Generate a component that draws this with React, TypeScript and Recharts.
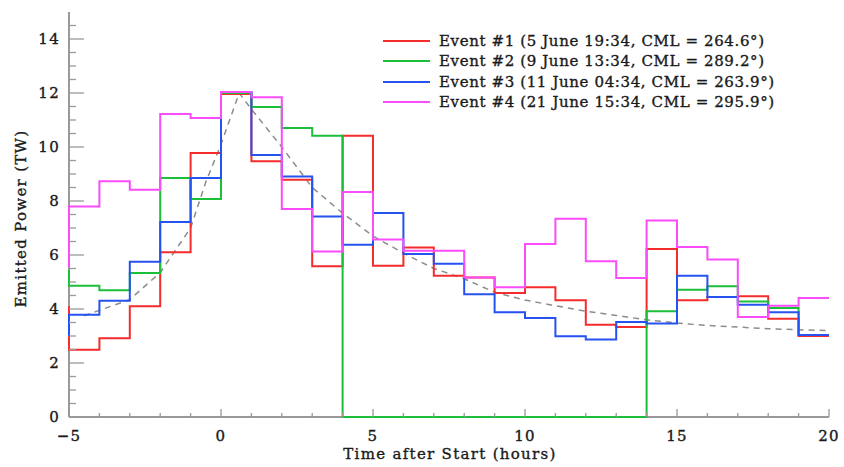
import React from 'react';
import { LineChart, Line, XAxis, YAxis, Legend } from 'recharts';

// hour marks: first entry is the level coming into the window, then the end of each 1-hour bin
const hours = [-5, -4, -3, -2, -1, 0, 1, 2, 3, 4, 5, 6, 7, 8, 9, 10, 11, 12, 13, 14, 15, 16, 17, 18, 19, 20];

const event1 = [4.1, 2.49, 2.92, 4.1, 6.1, 9.78, 11.96, 9.47, 8.79, 5.58, 10.42, 5.6, 6.28, 5.23, 5.17, 4.59, 4.81, 4.32, 3.42, 3.33, 6.22, 4.32, 4.44, 4.47, 3.64, 3.0];
const event2 = [5.45, 4.86, 4.69, 5.33, 8.85, 8.07, 12.0, 11.48, 10.7, 10.42, 0, 0, 0, 0, 0, 0, 0, 0, 0, 0, 3.92, 4.71, 4.84, 4.28, 4.04, 3.04];
const event3 = [3.0, 3.79, 4.31, 5.75, 7.22, 8.85, 12.04, 9.7, 8.91, 7.43, 6.38, 7.56, 6.04, 5.68, 4.55, 3.88, 3.67, 2.99, 2.87, 3.52, 3.46, 5.23, 4.44, 4.16, 3.88, 3.04];
const event4 = [5.55, 7.8, 8.73, 8.42, 11.22, 11.07, 12.04, 11.84, 7.7, 6.13, 8.33, 6.57, 6.16, 6.16, 5.17, 4.81, 6.41, 7.34, 5.77, 5.15, 7.28, 6.3, 5.83, 3.7, 4.12, 4.41];

// dashed model curve
const modelT = [-4.5, -4, -3, -2, -1, -0.5, 0, 0.6, 1, 2, 3, 4, 5, 6, 7, 8, 9, 10, 11, 12, 13, 14, 15, 16, 17, 18, 19, 20];
const modelP = [3.75, 3.95, 4.35, 5.35, 7.0, 8.7, 10.1, 12.0, 11.4, 10.0, 8.5, 7.55, 6.7, 6.07, 5.5, 5.12, 4.62, 4.33, 4.12, 3.92, 3.76, 3.6, 3.48, 3.39, 3.33, 3.27, 3.23, 3.2];

const eventNames = [
  'Event #1 (5 June 19:34, CML = 264.6°)',
  'Event #2 (9 June 13:34, CML = 289.2°)',
  'Event #3 (11 June 04:34, CML = 263.9°)',
  'Event #4 (21 June 15:34, CML = 295.9°)',
];
const eventColors = ['#f52c2c', '#1cbf3a', '#2652f0', '#fb4cfb'];

const xTickLabels = [-5, 0, 5, 10, 15, 20];
const yTickLabels = [0, 2, 4, 6, 8, 10, 12, 14];

const xTicks = Array.from({ length: 26 }, (_, i) => i - 5);
const yTicks = Array.from({ length: 30 }, (_, i) => i * 0.5);

const data = hours.map((t, i) => ({ t, e1: event1[i], e2: event2[i], e3: event3[i], e4: event4[i] }));
const model = modelT.map((t, i) => ({ t, p: modelP[i] }));

const FONT = '"DejaVu Serif", serif';
const AXIS = '#999999';
const INK = '#1a1a1a';

const textStyle = { fontFamily: FONT, fontSize: 15, fill: INK, stroke: INK, strokeWidth: 0.35, letterSpacing: 1.3 };

const BottomTick = ({ x, y, payload }: any) => {
  const major = xTickLabels.includes(payload.value);
  return (
    <g>
      <line x1={x} y1={y} x2={x} y2={y - (major ? 8 : 4)} stroke={AXIS} strokeWidth={1.3} />
      {major && (
        <text x={x} y={y + 24} textAnchor="middle" style={textStyle}>
          {payload.value < 0 ? '\u2212' + Math.abs(payload.value) : payload.value}
        </text>
      )}
    </g>
  );
};

const TopTick = ({ x, y, payload }: any) => {
  const major = xTickLabels.includes(payload.value);
  return <line x1={x} y1={y} x2={x} y2={y + (major ? 8 : 4)} stroke={AXIS} strokeWidth={1.3} />;
};

const LeftTick = ({ x, y, payload }: any) => {
  const major = yTickLabels.includes(payload.value);
  return (
    <g>
      <line x1={x} y1={y} x2={x + (major ? 15 : 7)} y2={y} stroke={AXIS} strokeWidth={1.3} />
      {major && (
        <text x={x - 9} y={y + 5} textAnchor="end" style={textStyle}>
          {payload.value}
        </text>
      )}
    </g>
  );
};

const RightTick = ({ x, y, payload }: any) => {
  const major = yTickLabels.includes(payload.value);
  return <line x1={x} y1={y} x2={x - (major ? 15 : 7)} y2={y} stroke={AXIS} strokeWidth={1.3} />;
};

const XTitle = ({ viewBox }: any) => (
  <text x={viewBox.x + viewBox.width / 2 + 1} y={viewBox.y + 42} textAnchor="middle" style={textStyle}>
    Time after Start (hours)
  </text>
);

const YTitle = ({ viewBox }: any) => {
  const cx = viewBox.x + 21;
  const cy = viewBox.y + viewBox.height / 2 + 4;
  return (
    <text x={cx} y={cy} transform={`rotate(-90, ${cx}, ${cy})`} textAnchor="middle" dominantBaseline="central" style={textStyle}>
      Emitted Power (TW)
    </text>
  );
};

const renderLegend = ({ payload }: any) => (
  <div style={{ fontFamily: FONT, fontSize: 15, color: INK, letterSpacing: 0.62, WebkitTextStroke: '0.35px #1a1a1a' }}>
    {(payload || [])
      .filter((entry: any) => eventNames.includes(entry.value))
      .map((entry: any) => (
        <div key={entry.value} style={{ display: 'flex', alignItems: 'center', height: 20.3, whiteSpace: 'nowrap' }}>
          <span style={{ display: 'inline-block', width: 47, borderTop: `2px solid ${entry.color}`, marginRight: 9 }} />
          <span>{entry.value}</span>
        </div>
      ))}
  </div>
);

export default function App() {
  return (
    <div style={{ position: 'absolute', left: 0, top: 0, background: '#fff' }}>
      <LineChart width={844} height={467} data={data} margin={{ top: 12, right: 15, bottom: 0, left: 0 }}>
        <XAxis
          xAxisId="main"
          dataKey="t"
          type="number"
          domain={[-5, 20]}
          ticks={xTicks}
          interval={0}
          height={50}
          tickSize={0}
          tickMargin={0}
          tick={<BottomTick />}
          axisLine={{ stroke: AXIS, strokeWidth: 2 }}
          label={<XTitle />}
        />
        <XAxis
          xAxisId="top"
          orientation="top"
          type="number"
          domain={[-5, 20]}
          ticks={xTicks}
          interval={0}
          allowDataOverflow
          height={0}
          tickSize={0}
          tickMargin={0}
          tick={<TopTick />}
          axisLine={{ stroke: AXIS, strokeWidth: 2 }}
        />
        <YAxis
          yAxisId="main"
          type="number"
          domain={[0, 15]}
          ticks={yTicks}
          interval={0}
          width={69}
          tickSize={0}
          tickMargin={0}
          tick={<LeftTick />}
          axisLine={{ stroke: AXIS, strokeWidth: 2 }}
          label={<YTitle />}
        />
        <YAxis
          yAxisId="right"
          orientation="right"
          type="number"
          domain={[0, 15]}
          ticks={yTicks}
          interval={0}
          allowDataOverflow
          width={0}
          tickSize={0}
          tickMargin={0}
          tick={<RightTick />}
          axisLine={{ stroke: AXIS, strokeWidth: 2 }}
        />
        <Line
          xAxisId="main"
          yAxisId="main"
          data={model}
          dataKey="p"
          type="linear"
          stroke="#8c8c8c"
          strokeWidth={1.5}
          strokeDasharray="6 5"
          dot={false}
          legendType="none"
          isAnimationActive={false}
          zIndex={600}
        />
        {['e1', 'e2', 'e3', 'e4'].map((key, i) => (
          <Line
            key={key}
            xAxisId="main"
            yAxisId="main"
            dataKey={key}
            name={eventNames[i]}
            type="stepBefore"
            stroke={eventColors[i]}
            strokeWidth={2}
            dot={false}
            isAnimationActive={false}
            zIndex={600}
          />
        ))}
        <Legend
          layout="vertical"
          align="center"
          verticalAlign="middle"
          content={renderLegend}
          wrapperStyle={{ left: 383, top: 31, width: 'auto' }}
        />
      </LineChart>
    </div>
  );
}
